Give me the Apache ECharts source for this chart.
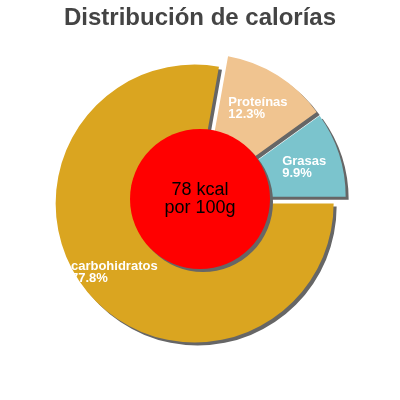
<!DOCTYPE html>
<html>
<head>
<meta charset="utf-8">
<style>
  html, body { margin: 0; padding: 0; background: #fff; }
  #container { width: 400px; height: 400px; }
</style>
<script src="https://cdn.jsdelivr.net/npm/echarts@6/dist/echarts.min.js"></script>
</head>
<body>
<div id="container"></div>
<script>
// datos de la tarta
var categories = ['carbohidratos', 'Proteínas', 'Grasas'];
var percents = [77.8, 12.3, 9.9];
var centerLines = ['78 kcal', 'por 100g'];
var palette = ['#DAA520', '#F0C490', '#7BC4CD'];

var font = '"Liberation Sans", Arial, sans-serif';
var shadow = { shadowColor: '#666', shadowBlur: 0, shadowOffsetX: 3, shadowOffsetY: 3 };

var chart = echarts.init(document.getElementById('container'));

var slices = categories.map(function (name, i) {
    return {
        name: name,
        value: percents[i],
        selected: true,
        itemStyle: Object.assign({ color: palette[i] }, shadow)
    };
});

var option = {
    animation: false,
    title: {
        text: 'Distribución de calorías',
        left: 'center',
        top: 1,
        textStyle: { fontFamily: font, fontSize: 24, fontWeight: 'bold', color: '#444' }
    },
    series: [
        {
            type: 'pie',
            z: 2,
            center: [200, 199],
            radius: [62, 139],
            startAngle: 0,
            clockwise: true,
            selectedMode: 'multiple',
            selectedOffset: 7,
            avoidLabelOverlap: false,
            silent: true,
            label: {
                position: 'inside',
                padding: [5, 2, 0, 0],
                formatter: function (p) {
                    return '{t|' + p.name + '}\n{t|' + p.value + '%}';
                },
                rich: {
                    t: {
                        align: 'left',
                        color: '#fff',
                        fontFamily: font,
                        fontSize: 13,
                        fontWeight: 'bold',
                        lineHeight: 12
                    }
                },
                textBorderWidth: 0
            },
            labelLine: { show: false },
            data: slices
        },
        {
            type: 'pie',
            z: 5,
            center: [200, 199],
            radius: [0, 70],
            silent: true,
            label: {
                position: 'center',
                formatter: centerLines.join('\n'),
                color: '#000',
                fontFamily: font,
                fontSize: 18,
                lineHeight: 18,
                textBorderWidth: 0
            },
            labelLine: { show: false },
            itemStyle: Object.assign({ color: '#FF0000', borderWidth: 0 }, shadow),
            data: [{ name: 'kcal', value: 1 }]
        }
    ]
};

chart.setOption(option, true);
</script>
</body>
</html>
